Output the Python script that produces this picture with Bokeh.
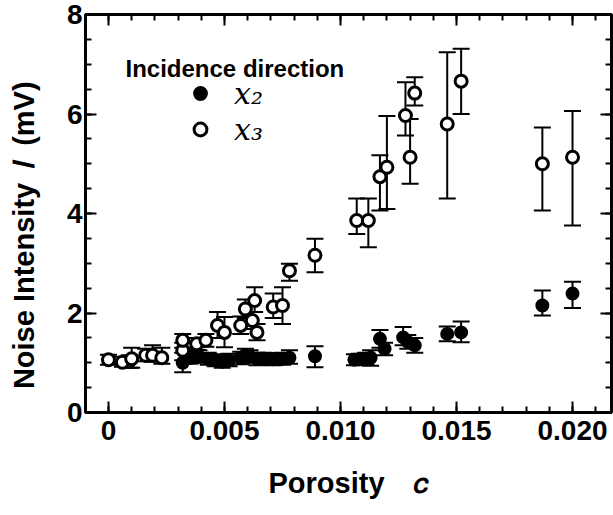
from bokeh.plotting import figure
from bokeh.models import (Range1d, LinearAxis, FixedTicker, Label, Legend, LegendItem,
                          ColumnDataSource)
from bokeh.embed import file_html
from bokeh.resources import INLINE

# ---------------- data ----------------
# open circles: incidence direction x3
x3_c = [0.0000, 0.0006, 0.0010, 0.0016, 0.0019, 0.0023, 0.0032, 0.0032, 0.0038, 0.0042,
        0.0047, 0.0050, 0.0057, 0.0059, 0.0062, 0.0063, 0.0064, 0.0071, 0.0075, 0.0078,
        0.0089, 0.0107, 0.0112, 0.0117, 0.0120, 0.0128, 0.0130, 0.0132, 0.0146, 0.0152,
        0.0187, 0.0200]
x3_I = [1.06, 1.01, 1.08, 1.15, 1.15, 1.10, 1.25, 1.45, 1.38, 1.45,
        1.75, 1.61, 1.75, 2.08, 1.85, 2.25, 1.61, 2.12, 2.15, 2.85,
        3.16, 3.86, 3.86, 4.74, 4.93, 5.97, 5.13, 6.42, 5.80, 6.66,
        5.00, 5.13]
x3_lo = [0.96, 0.92, 0.90, 1.03, 1.02, 0.98, 1.05, 1.30, 1.26, 1.32,
         1.50, 1.31, 1.58, 1.90, 1.68, 2.02, 1.45, 1.90, 1.78, 2.65,
         2.82, 3.59, 3.32, 4.06, 4.09, 5.57, 4.60, 6.17, 4.30, 6.00,
         4.06, 3.76]
x3_hi = [1.16, 1.12, 1.30, 1.28, 1.35, 1.30, 1.40, 1.58, 1.50, 1.58,
         2.02, 1.92, 1.93, 2.27, 2.02, 2.52, 1.78, 2.39, 2.52, 2.99,
         3.49, 4.30, 4.30, 5.17, 5.96, 6.64, 5.90, 6.74, 7.24, 7.31,
         5.73, 6.06]

# filled circles: incidence direction x2
x2_c = [0.0009, 0.0032, 0.0035, 0.0039, 0.0043, 0.0046, 0.0049, 0.0052, 0.0057, 0.0059,
        0.0061, 0.0064, 0.0067, 0.0071, 0.0075, 0.0078, 0.0089, 0.0106, 0.0108, 0.0111,
        0.0113, 0.0117, 0.0119, 0.0127, 0.0129, 0.0132, 0.0146, 0.0152, 0.0187, 0.0200]
x2_I = [1.02, 1.00, 1.10, 1.12, 1.08, 1.05, 1.02, 1.05, 1.10, 1.15,
        1.12, 1.08, 1.08, 1.07, 1.08, 1.10, 1.13, 1.06, 1.07, 1.08,
        1.10, 1.48, 1.28, 1.51, 1.42, 1.35, 1.58, 1.61, 2.15, 2.39]
x2_lo = [0.90, 0.81, 0.98, 1.00, 0.96, 0.93, 0.90, 0.93, 0.97, 1.02,
         1.00, 0.95, 0.96, 0.95, 0.96, 0.98, 0.91, 0.95, 0.96, 0.96,
         0.94, 1.30, 1.15, 1.35, 1.28, 1.20, 1.43, 1.41, 1.95, 2.10]
x2_hi = [1.15, 1.20, 1.22, 1.25, 1.20, 1.17, 1.15, 1.18, 1.22, 1.28,
         1.25, 1.20, 1.20, 1.19, 1.20, 1.25, 1.33, 1.17, 1.18, 1.20,
         1.25, 1.66, 1.40, 1.72, 1.56, 1.50, 1.73, 1.83, 2.45, 2.63]

x_ticks = [0, 0.005, 0.010, 0.015, 0.020]
x_tick_labels = ["0", "0.005", "0.010", "0.015", "0.020"]
x_minor = [i / 1000 for i in range(-1, 22)]
y_ticks = [0, 2, 4, 6, 8]
y_tick_labels = ["0", "2", "4", "6", "8"]
y_minor = [i / 2 for i in range(0, 17)]

x_title = "Porosity\u2003\U0001D450"                                   # Porosity  c
y_title = "Noise Intensity\u2002\U0001D43C\u2002(mV)\u2003\u2002"     # Noise Intensity  I  (mV)
legend_title = "Incidence direction"
series_names = ["x\u2082", "x\u2083"]

# ---------------- layout ----------------
W, H = 613, 515
FL, FR, FT, FB = 85, 611, 14, 412   # frame edges in canvas pixels


def sx(px):
    return px - FL


def sy(py):
    return FB - py


p = figure(width=W, height=H, output_backend="svg", toolbar_location=None,
           x_range=Range1d(-0.00099, 0.02168), y_range=Range1d(0, 8),
           min_border_left=FL, min_border_right=W - FR, min_border_top=FT,
           min_border_bottom=H - FB, background_fill_color="white",
           border_fill_color="white")
p.grid.visible = False
p.outline_line_color = "black"
p.outline_line_width = 3

xt = FixedTicker(ticks=x_ticks, minor_ticks=x_minor)
yt = FixedTicker(ticks=y_ticks, minor_ticks=y_minor)


def style_axis(ax, show_labels):
    ax.axis_line_width = 3
    ax.axis_line_color = "black"
    ax.major_tick_in = 11
    ax.major_tick_out = 0
    ax.minor_tick_in = 6
    ax.minor_tick_out = 0
    ax.major_tick_line_width = 2
    ax.minor_tick_line_width = 2
    ax.major_tick_line_color = "black"
    ax.minor_tick_line_color = "black"
    if show_labels:
        ax.major_label_text_font = "Liberation Sans"
        ax.major_label_text_font_style = "bold"
        ax.major_label_text_font_size = "28px"
        ax.major_label_text_color = "black"
        ax.axis_label_text_font = "Liberation Sans"
        ax.axis_label_text_font_style = "bold"
        ax.axis_label_text_font_size = "29px"
        ax.axis_label_text_color = "black"
    else:
        ax.major_label_text_font_size = "0px"
        ax.major_label_standoff = 0


p.xaxis.ticker = xt
p.yaxis.ticker = yt
p.xaxis.major_label_overrides = dict(zip(x_ticks, x_tick_labels))
p.yaxis.major_label_overrides = dict(zip(y_ticks, y_tick_labels))
for ax in p.xaxis + p.yaxis:
    style_axis(ax, True)
p.xaxis.major_label_standoff = 8
p.yaxis.major_label_standoff = 3
p.xaxis.axis_label = x_title
p.yaxis.axis_label = y_title
p.xaxis.axis_label_standoff = 24
p.yaxis.axis_label_standoff = 24

top = LinearAxis(ticker=FixedTicker(ticks=x_ticks, minor_ticks=x_minor))
right = LinearAxis(ticker=FixedTicker(ticks=y_ticks, minor_ticks=y_minor))
style_axis(top, False)
style_axis(right, False)
p.add_layout(top, "above")
p.add_layout(right, "right")

# ---------------- error bars + points ----------------
s2 = ColumnDataSource(dict(c=x2_c, I=x2_I, lo=x2_lo, hi=x2_hi))
s3 = ColumnDataSource(dict(c=x3_c, I=x3_I, lo=x3_lo, hi=x3_hi))

for src in (s2, s3):
    p.segment(x0="c", y0="lo", x1="c", y1="hi", source=src, line_color="black", line_width=2)
    p.scatter(x="c", y="lo", source=src, marker="dash", size=17, line_color="black", line_width=2)
    p.scatter(x="c", y="hi", source=src, marker="dash", size=17, line_color="black", line_width=2)

r2 = p.scatter(x="c", y="I", source=s2, marker="circle", size=12, fill_color="black",
               line_color="black", line_width=2)
r3 = p.scatter(x="c", y="I", source=s3, marker="circle", size=12, fill_color="white",
               line_color="black", line_width=3)

# ---------------- legend ----------------
leg = Legend(items=[LegendItem(label=series_names[0], renderers=[r2]),
                    LegendItem(label=series_names[1], renderers=[r3])],
             location=(sx(184), sy(147)), orientation="vertical",
             glyph_width=32, glyph_height=36, label_height=36, spacing=0, padding=0,
             label_standoff=18, label_text_font="DejaVu Serif",
             label_text_font_style="italic", label_text_font_size="30px",
             label_text_color="black",
             border_line_alpha=0, background_fill_alpha=0, margin=0)
p.add_layout(leg, "center")

p.add_layout(Label(x=sx(125), y=sy(68), x_units="screen", y_units="screen", text=legend_title,
                   text_font="Liberation Sans", text_font_style="bold", text_font_size="24px",
                   text_color="black", text_baseline="alphabetic", text_align="left"))

open("out.html", "w").write(file_html(p, INLINE))
